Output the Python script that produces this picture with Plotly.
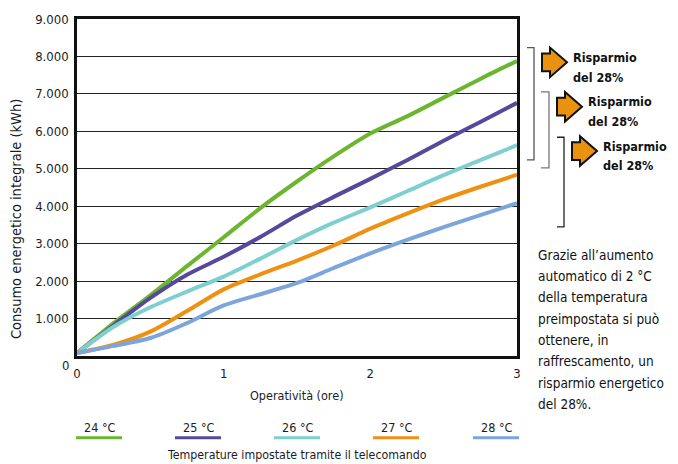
import plotly.graph_objects as go

# data
hours = [0, 0.25, 0.5, 0.75, 1, 1.25, 1.5, 1.75, 2, 2.25, 2.5, 2.75, 3]
t24 = [80, 880, 1620, 2400, 3170, 3950, 4660, 5330, 5940, 6400, 6900, 7400, 7880]
t25 = [80, 820, 1550, 2170, 2650, 3180, 3750, 4250, 4730, 5230, 5750, 6250, 6760]
t26 = [80, 780, 1300, 1720, 2120, 2600, 3100, 3560, 3970, 4400, 4830, 5230, 5630]
t27 = [80, 300, 650, 1200, 1780, 2180, 2550, 2950, 3400, 3800, 4180, 4520, 4840]
t28 = [80, 270, 480, 880, 1350, 1650, 1950, 2350, 2740, 3100, 3440, 3760, 4080]
names = ["24 °C", "25 °C", "26 °C", "27 °C", "28 °C"]
colors = ["#6db52e", "#56489b", "#7fcfcf", "#ee9113", "#7ca5dc"]
y_ticks = [1000, 2000, 3000, 4000, 5000, 6000, 7000, 8000, 9000]
y_labels = ["1.000", "2.000", "3.000", "4.000", "5.000", "6.000", "7.000", "8.000", "9.000"]
note = ["Grazie all’aumento", "automatico di 2 °C", "della temperatura", "preimpostata si può",
        "ottenere, in", "raffrescamento, un", "risparmio energetico", "del 28%."]

FONT = "DejaVu Sans Condensed, DejaVu Sans, sans-serif"
TXT = "#1c1c1c"

# plot area in pixels
L, R, T, B = 77, 517, 14, 356


def px(x):
    return (x - L) / (R - L)


def py(y):
    return (B - y) / (B - T)


def label(x, y, text, size, anchor="center", **kw):
    return dict(x=px(x), y=py(y), xref="paper", yref="paper", text=text, showarrow=False,
                font=dict(size=size, color=kw.pop("color", TXT)), xanchor=anchor,
                yanchor="middle", **kw)


fig = go.Figure()
for name, vals, col in zip(names, [t24, t25, t26, t27, t28], colors):
    fig.add_trace(go.Scatter(x=hours, y=vals, mode="lines", name=name,
                             line=dict(color=col, width=4, shape="spline", smoothing=0.8)))

shapes = []
annos = []

# legend under the chart
leg_x = [99, 198, 297, 396, 496]
for cx, name, col in zip(leg_x, names, colors):
    annos.append(label(cx, 429, name, 12.5))
    shapes.append(dict(type="line", xref="paper", yref="paper", x0=px(cx - 23), x1=px(cx + 23),
                       y0=py(439), y1=py(439), line=dict(color=col, width=3)))
annos.append(label(297, 456, "Temperature impostate tramite il telecomando", 12.3))
annos.append(label(297, 396, "Operatività (ore)", 12.5))
annos.append(label(16, 217, "Consumo energetico integrale (kWh)", 14.5, textangle=-90))
annos.append(label(71, 366, "0", 13, anchor="right"))

# brackets and arrows
brackets = [(527, 534, 43, 157, "#555"), (541, 549, 88, 165, "#777"), (557, 564, 134, 225, "#222")]
for x0, x1, y0, y1, c in brackets:
    path = f"M {px(x0)} {py(y0)} L {px(x1)} {py(y0)} L {px(x1)} {py(y1)} L {px(x0)} {py(y1)}"
    shapes.append(dict(type="path", xref="paper", yref="paper", path=path,
                       line=dict(color=c, width=1.3)))

arrow_pos = [(542, 43), (557, 88), (572, 133)]
for ax, ay in arrow_pos:
    pts = [(ax, ay + 6), (ax + 8, ay + 6), (ax + 8, ay), (ax + 25, ay + 15),
           (ax + 8, ay + 30), (ax + 8, ay + 24), (ax, ay + 24)]
    path = "M " + " L ".join(f"{px(a)} {py(b)}" for a, b in pts) + " Z"
    shapes.append(dict(type="path", xref="paper", yref="paper", path=path,
                       fillcolor="#e8920f", line=dict(color="#111", width=2)))
    annos.append(label(ax + 29, ay + 10, "<b>Risparmio</b>", 12.5, anchor="left", color="#111"))
    annos.append(label(ax + 29, ay + 30, "<b>del 28%</b>", 12.5, anchor="left", color="#111"))

for i, line in enumerate(note):
    annos.append(label(536, 253 + i * 21.7, line, 13.5, anchor="left", color="#111"))

fig.update_layout(
    width=678, height=464,
    margin=dict(l=L, r=678 - R, t=T, b=464 - B),
    plot_bgcolor="white", paper_bgcolor="white",
    font=dict(family=FONT, size=13, color=TXT),
    showlegend=False,
    shapes=shapes, annotations=annos,
)
fig.update_xaxes(range=[0, 3], tickvals=[0, 1, 2, 3], ticktext=["0", "1", "2", "3"],
                 showgrid=False, zeroline=False, showline=True, linecolor="#111", linewidth=2.5,
                 mirror=True, ticks="outside", ticklen=4, tickcolor="rgba(0,0,0,0)",
                 tickfont=dict(size=13))
fig.update_yaxes(range=[0, 9000], tickvals=y_ticks, ticktext=y_labels,
                 showgrid=True, gridcolor="#222", gridwidth=1, zeroline=False,
                 showline=True, linecolor="#111", linewidth=2.5, mirror=True,
                 ticks="outside", ticklen=3, tickcolor="rgba(0,0,0,0)", tickfont=dict(size=13))

fig.write_html("out.html", config={"displayModeBar": False},
               post_script="document.body.style.margin='0';")
